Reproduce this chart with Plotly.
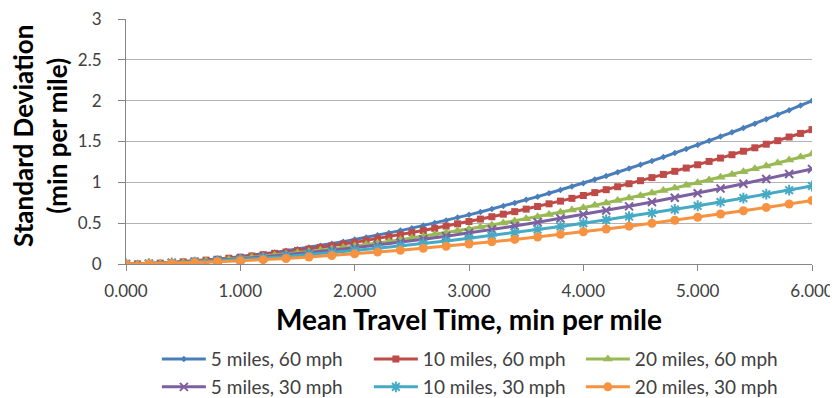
import plotly.graph_objects as go

# x grids (min per mile)
x_fine = [round(i * 0.1, 1) for i in range(61)]
x_coarse = [round(i * 0.2, 1) for i in range(31)]

# Standard deviation (min per mile)
sd_5mi_60mph = [0, 0.002, 0.006, 0.011, 0.018, 0.027, 0.037, 0.049, 0.061, 0.075,
                0.090, 0.106, 0.123, 0.142, 0.161, 0.182, 0.203, 0.225, 0.249, 0.273,
                0.299, 0.325, 0.352, 0.380, 0.409, 0.439, 0.470, 0.502, 0.534, 0.568,
                0.602, 0.637, 0.673, 0.710, 0.748, 0.786, 0.825, 0.866, 0.906, 0.948,
                0.990, 1.034, 1.078, 1.122, 1.168, 1.214, 1.262, 1.309, 1.358, 1.407,
                1.457, 1.508, 1.560, 1.612, 1.665, 1.718, 1.773, 1.828, 1.884, 1.941,
                1.998]
sd_10mi_60mph = [0, 0.002, 0.006, 0.011, 0.018, 0.027, 0.036, 0.047, 0.058, 0.071,
                 0.084, 0.098, 0.114, 0.130, 0.147, 0.165, 0.183, 0.203, 0.223, 0.244,
                 0.265, 0.288, 0.311, 0.335, 0.359, 0.385, 0.410, 0.437, 0.464, 0.492,
                 0.520, 0.550, 0.579, 0.610, 0.641, 0.672, 0.704, 0.737, 0.770, 0.804,
                 0.839, 0.874, 0.910, 0.946, 0.983, 1.020, 1.058, 1.097, 1.135, 1.175,
                 1.215, 1.256, 1.297, 1.338, 1.381, 1.423, 1.467, 1.510, 1.555, 1.599,
                 1.645]
sd_20mi_60mph = [0, 0.002, 0.005, 0.010, 0.015, 0.022, 0.030, 0.039, 0.049, 0.059,
                 0.070, 0.082, 0.095, 0.108, 0.122, 0.137, 0.152, 0.168, 0.185, 0.202,
                 0.220, 0.238, 0.257, 0.277, 0.297, 0.318, 0.339, 0.360, 0.383, 0.406,
                 0.429, 0.453, 0.477, 0.502, 0.527, 0.553, 0.579, 0.606, 0.634, 0.661,
                 0.689, 0.718, 0.747, 0.777, 0.807, 0.837, 0.868, 0.900, 0.931, 0.964,
                 0.996, 1.029, 1.063, 1.097, 1.131, 1.166, 1.201, 1.237, 1.273, 1.309,
                 1.346]
sd_5mi_30mph = [0, 0.005, 0.015, 0.029, 0.045, 0.065, 0.087, 0.112, 0.139, 0.168,
                0.198, 0.231, 0.266, 0.303, 0.341, 0.381, 0.423, 0.466, 0.511, 0.558,
                0.606, 0.655, 0.706, 0.759, 0.812, 0.867, 0.924, 0.982, 1.041, 1.102,
                1.164]
sd_10mi_30mph = [0, 0.004, 0.013, 0.024, 0.038, 0.054, 0.073, 0.093, 0.115, 0.139,
                 0.165, 0.192, 0.220, 0.251, 0.282, 0.315, 0.349, 0.385, 0.422, 0.460,
                 0.499, 0.540, 0.581, 0.624, 0.668, 0.713, 0.759, 0.807, 0.855, 0.904,
                 0.955]
sd_20mi_30mph = [0, 0.003, 0.008, 0.017, 0.027, 0.039, 0.053, 0.068, 0.086, 0.104,
                 0.124, 0.146, 0.168, 0.192, 0.218, 0.244, 0.272, 0.301, 0.331, 0.363,
                 0.395, 0.428, 0.463, 0.499, 0.536, 0.573, 0.612, 0.652, 0.693, 0.735,
                 0.777]

series = [
    ("5 miles, 60 mph", x_fine, sd_5mi_60mph, "#4A7EBB", dict(symbol="diamond", size=5), "legend"),
    ("10 miles, 60 mph", x_fine, sd_10mi_60mph, "#BE4B48", dict(symbol="square", size=7), "legend"),
    ("20 miles, 60 mph", x_fine, sd_20mi_60mph, "#98B954", dict(symbol="triangle-up", size=9), "legend"),
    ("5 miles, 30 mph", x_coarse, sd_5mi_30mph, "#7D60A0", dict(symbol="x-thin-open", size=8, line=dict(width=2, color="#7D60A0")), "legend2"),
    ("10 miles, 30 mph", x_coarse, sd_10mi_30mph, "#46AAC5", dict(symbol="asterisk-open", size=9, line=dict(width=2, color="#46AAC5")), "legend2"),
    ("20 miles, 30 mph", x_coarse, sd_20mi_30mph, "#F69240", dict(symbol="circle", size=9), "legend2"),
]

FONT = "Lato, 'Open Sans', sans-serif"
TXT = "#404040"

fig = go.Figure()
for name, xs, ys, col, mk, lg in series:
    fig.add_trace(go.Scatter(
        x=xs, y=ys, name=name, mode="lines+markers",
        line=dict(color=col, width=3),
        marker=dict(color=col, **mk),
        legend=lg,
    ))

legend_common = dict(
    orientation="h", xanchor="left", yanchor="middle",
    font=dict(family=FONT, size=19, color=TXT),
    entrywidth=153, entrywidthmode="pixels",
    bgcolor="rgba(0,0,0,0)", itemwidth=44,
    tracegroupgap=0,
)

# The page body adds an 8px offset, so the figure is 8px smaller and margins shifted.
fig.update_layout(
    width=830, height=390,
    margin=dict(l=118, r=26, t=11, b=134, autoexpand=False),
    paper_bgcolor="white", plot_bgcolor="white",
    font=dict(family=FONT, size=17, color=TXT),
    showlegend=True,
    legend=dict(x=0.045, y=-0.388, **legend_common),
    legend2=dict(x=0.045, y=-0.502, **legend_common),
    xaxis=dict(
        range=[0, 6], dtick=1, tick0=0, tickformat=".3f",
        showgrid=False, zeroline=False,
        showline=True, linecolor="#868686", linewidth=1,
        ticks="outside", ticklen=6, tickcolor="#868686",
        ticklabelstandoff=6, ticklabeloverflow="allow",
        tickfont=dict(family=FONT, size=17, color=TXT),
    ),
    yaxis=dict(
        range=[0, 3], dtick=0.5, tick0=0,
        showgrid=True, gridcolor="#B3B3B3", gridwidth=1,
        zeroline=False,
        showline=True, linecolor="#868686", linewidth=1,
        ticks="outside", ticklen=7, tickcolor="#868686",
        ticklabelstandoff=13, ticklabeloverflow="allow",
        tickfont=dict(family=FONT, size=17, color=TXT),
        tickformat="~g",
    ),
    annotations=[
        dict(text="<b>Mean Travel Time, min per mile</b>", xref="paper", yref="paper",
             x=0.5, y=-(319 - 264) / 245, xanchor="center", yanchor="middle",
             showarrow=False, font=dict(family=FONT, size=28, color="#000000")),
        dict(text="<b>Standard Deviation<br>(min per mile)</b>", xref="paper", yref="paper",
             x=-(126 - 40) / 686, y=(264 - 136) / 245, xanchor="center", yanchor="middle", textangle=-90,
             showarrow=False, font=dict(family=FONT, size=26, color="#000000")),
    ],
)

fig.write_html("out.html")
